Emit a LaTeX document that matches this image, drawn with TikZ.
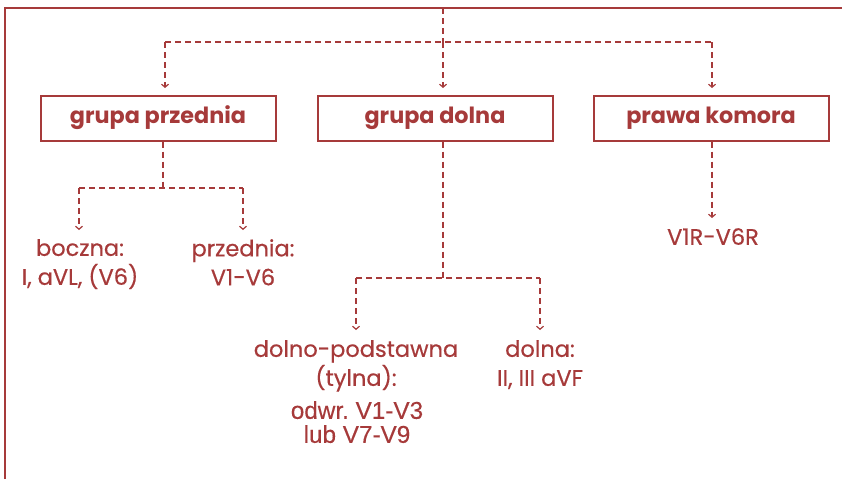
\documentclass[tikz,border=0pt]{standalone}
\usepackage{fontspec}
\setmainfont{Poppins}
\newfontfamily\leadfont{Poppins}[FakeBold=0.5]
\newfontfamily\plainfont{Liberation Sans}[FakeBold=0.3]
\usetikzlibrary{arrows.meta}
\definecolor{brick}{HTML}{A63A3A}
\begin{document}
\begin{tikzpicture}[x=1pt,y=-1pt,
  every node/.style={text=brick},
  groupbox/.style={draw=brick,line width=2pt,minimum width=235pt,minimum height=45pt,
    font=\fontsize{22.3}{26}\selectfont\bfseries,inner sep=0pt},
  leadlabel/.style={align=center,font=\leadfont\fontsize{22.5}{29}\selectfont,inner sep=0pt},
  plainlabel/.style={align=center,font=\plainfont\fontsize{24.3}{24}\selectfont,inner sep=0pt},
  link/.style={draw=brick,line width=1.3pt,dash pattern=on 6pt off 4pt},
  tip/.style={link,-{Straight Barb[length=3pt,width=7pt,line width=1.2pt]}}]
\useasboundingbox (0,0) rectangle (842,479);
% outer frame: top and left edges only
\draw[brick,line width=2pt] (5,479) -- (5,8) -- (842,8);

% group boxes
\node[groupbox] (front) at (158,118) {grupa przednia};
\node[groupbox] (lower) at (435,118) {grupa dolna};
\node[groupbox] (right) at (711,118) {prawa komora};

% splitting points
\coordinate (root) at (443,8);
\coordinate (rootsplit) at (443,42);
\coordinate (frontsplit) at (163,188);
\coordinate (lowersplit) at (443,278);
\coordinate (rightdrop) at (712,218);

% leads
\node[leadlabel,anchor=north] (lateral) at (80,239) {boczna:\\I, aVL, (V6)};
\node[leadlabel,anchor=north] (anterior) at (243,239) {przednia:\\V1-V6};
\node[leadlabel,anchor=north] (posterior) at (356,340) {dolno-podstawna\\(tylna):};
\node[plainlabel,anchor=north] (posteriornote) at (357,401) {odwr.\ V1-V3\\lub V7-V9};
\node[leadlabel,anchor=north] (inferior) at (540,340) {dolna:\\II, III aVF};
\node[leadlabel,anchor=north] (rightleads) at (713,228) {V1R-V6R};

% connectors from the top
\draw[link] (root) -- (rootsplit);
\draw[link] (165,42) -- (712,42);
\draw[tip] (rootsplit) -- (443,88);
\draw[tip] (165,42) -- (165,88);
\draw[tip] (712,42) -- (712,88);

% front group
\draw[link] (front.south -| frontsplit) -- (frontsplit);
\draw[link] (79,188) -- (243,188);
\draw[tip] (79,188) -- (79,230);
\draw[tip] (243,188) -- (243,230);

% lower group
\draw[link] (lower.south -| lowersplit) -- (lowersplit);
\draw[link] (356,278) -- (540,278);
\draw[tip] (356,278) -- (356,330);
\draw[tip] (540,278) -- (540,330);

% right ventricle
\draw[tip] (right.south -| rightdrop) -- (rightdrop);
\end{tikzpicture}
\end{document}
